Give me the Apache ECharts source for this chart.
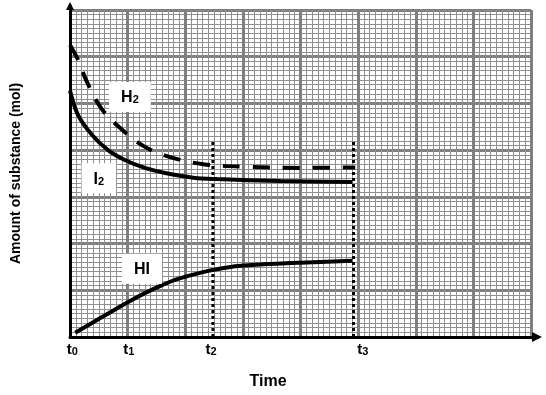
<!DOCTYPE html>
<html>
<head>
<meta charset="utf-8">
<script src="https://cdn.jsdelivr.net/npm/echarts@6/dist/echarts.min.js"></script>
<style>
html,body{margin:0;padding:0;background:#fff;}
#chart{width:546px;height:395px;}
</style>
</head>
<body>
<div id="chart"></div>
<script>
// ---- data (x in major grid columns, y in major grid rows) ----
const h2X = [0.00, 0.14, 0.28, 0.54, 0.89, 1.30, 1.74, 2.31, 3.13, 4.00, 4.95];
const h2Y = [6.25, 5.93, 5.50, 4.90, 4.45, 4.07, 3.85, 3.70, 3.64, 3.62, 3.63];
const i2X = [0.00, 0.14, 0.38, 0.66, 0.95, 1.30, 1.65, 2.14, 2.55, 3.65, 4.90];
const i2Y = [5.27, 4.75, 4.33, 4.00, 3.79, 3.62, 3.51, 3.41, 3.38, 3.34, 3.32];
const hiX = [0.09, 0.52, 1.01, 1.30, 1.60, 1.86, 2.38, 2.78, 3.30, 3.99, 4.90];
const hiY = [0.09, 0.40, 0.75, 0.94, 1.11, 1.24, 1.41, 1.50, 1.55, 1.59, 1.63];
const timeMarks = [2.48, 4.92];          // dotted verticals at t2, t3
const timeMarkTop = 4.19;
const tickPos = [0.04, 1.02, 2.45, 5.08]; // t0..t3 label positions
const tickSub = ['0', '1', '2', '3'];
const labelNames = [['H', '2'], ['I', '2'], ['HI', '']];
const labelPos = [[1.04, 5.14], [0.50, 3.40], [1.25, 1.46]];
const xMax = 8, yMax = 7;

const font = "'Liberation Sans', Arial, sans-serif";
const zip = (xs, ys) => xs.map((x, i) => [x, ys[i]]);

const chart = echarts.init(document.getElementById('chart'), null, {renderer: 'canvas'});

const gridLine = {show: true, lineStyle: {color: '#808080', width: 3}};
const minorLine = {show: true, lineStyle: {color: '#8f8f8f', width: 1}};

const series = [
  {type: 'line', name: 'H2', data: zip(h2X, h2Y), smooth: 0.35, symbol: 'none',
   lineStyle: {color: '#000', width: 4, type: [17, 13]}, z: 3},
  {type: 'line', name: 'I2', data: zip(i2X, i2Y), smooth: 0.35, symbol: 'none',
   lineStyle: {color: '#000', width: 4}, z: 3},
  {type: 'line', name: 'HI', data: zip(hiX, hiY), smooth: 0.35, symbol: 'none',
   lineStyle: {color: '#000', width: 4}, z: 3}
];
timeMarks.forEach(x => {
  series.push({type: 'line', data: [[x, 0], [x, timeMarkTop]], symbol: 'none',
    lineStyle: {color: '#000', width: 3, type: [3, 3]}, z: 3});
});
series.push({
  type: 'scatter', symbol: 'circle', symbolSize: 1, itemStyle: {color: 'rgba(255,255,255,0)', opacity: 1},
  data: labelPos.map((p, i) => ({value: p, name: String(i)})), z: 5,
  label: {
    show: true, position: 'inside', color: '#000', opacity: 1,
    formatter: p => {
      const n = labelNames[p.dataIndex];
      return '{m|' + n[0] + '}' + (n[1] ? '{s|' + n[1] + '}' : '');
    },
    backgroundColor: '#fff', padding: [6, 12, 6, 12],
    rich: {
      m: {fontFamily: font, fontWeight: 'bold', fontSize: 16, color: '#000', lineHeight: 18, verticalAlign: 'bottom'},
      s: {fontFamily: font, fontWeight: 'bold', fontSize: 11, color: '#000', lineHeight: 13, verticalAlign: 'bottom'}
    }
  }
});

chart.setOption({
  animation: false,
  backgroundColor: '#fff',
  grid: [
    {left: 70, right: 15, top: 10, bottom: 58},
    {left: 70, right: 9, top: 6, bottom: 58}
  ],
  xAxis: [
    {type: 'value', gridIndex: 0, min: 0, max: xMax, interval: 1,
     axisLine: {show: false}, axisTick: {show: false},
     minorTick: {show: false, splitNumber: 10},
     splitLine: gridLine, minorSplitLine: minorLine,
     axisLabel: {
       show: true, margin: 4, customValues: tickPos, showMinLabel: true, showMaxLabel: true, color: '#000',
       formatter: v => {
         const i = tickPos.indexOf(v);
         return i < 0 ? '' : '{t|t}{s|' + tickSub[i] + '}';
       },
       rich: {
         t: {fontFamily: font, fontWeight: 'bold', fontSize: 15, color: '#000', lineHeight: 16, verticalAlign: 'bottom'},
         s: {fontFamily: font, fontWeight: 'bold', fontSize: 11, color: '#000', lineHeight: 12, verticalAlign: 'bottom'}
       }
     }},
    {type: 'value', gridIndex: 1, min: 0, max: 1,
     axisLine: {show: true, onZero: false, symbol: ['none', 'triangle'], symbolSize: [10, 10],
       lineStyle: {color: '#000', width: 3}},
     axisTick: {show: false}, axisLabel: {show: false}, splitLine: {show: false}}
  ],
  yAxis: [
    {type: 'value', gridIndex: 0, min: 0, max: yMax, interval: 1,
     axisLine: {show: false}, axisTick: {show: false}, axisLabel: {show: false},
     minorTick: {show: false, splitNumber: 10},
     splitLine: gridLine, minorSplitLine: minorLine,
     name: 'Amount of substance (mol)', nameLocation: 'middle', nameGap: 47,
     nameTextStyle: {fontFamily: font, fontWeight: 'bold', fontSize: 14, color: '#000'}},
    {type: 'value', gridIndex: 1, min: 0, max: 1,
     axisLine: {show: true, onZero: false, symbol: ['none', 'triangle'], symbolSize: [8, 8],
       lineStyle: {color: '#000', width: 3}},
     axisTick: {show: false}, axisLabel: {show: false}, splitLine: {show: false}}
  ],
  graphic: [
    {type: 'text', x: 268, y: 382,
     style: {text: 'Time', font: 'bold 16px ' + font, fill: '#000', textAlign: 'center', textVerticalAlign: 'middle'}}
  ],
  series: series
});
</script>
</body>
</html>
